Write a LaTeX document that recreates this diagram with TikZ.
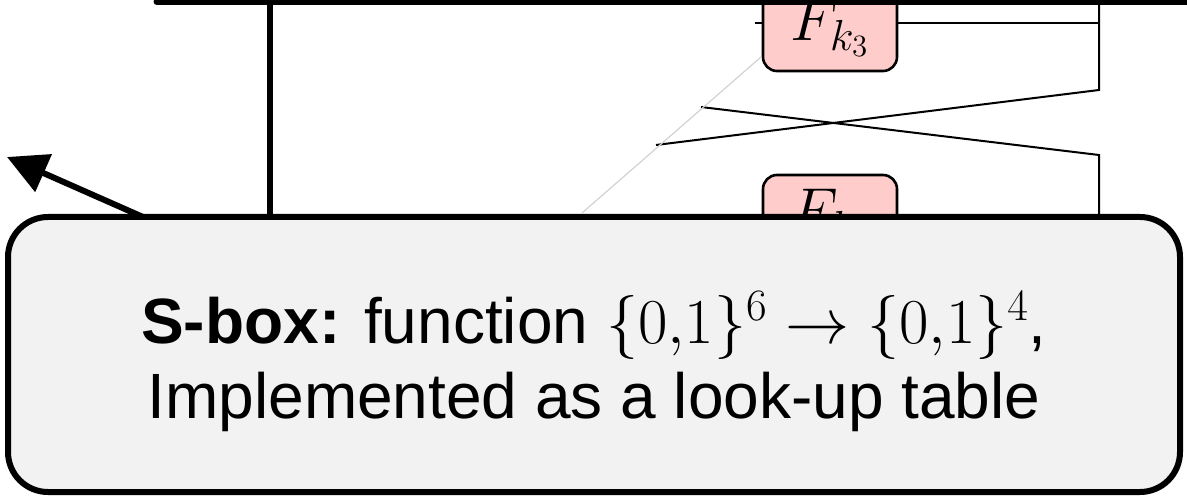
\RequirePackage{fix-cm}
\documentclass[tikz,border=0pt]{standalone}
\usepackage{fontspec}
\setmainfont{Liberation Sans}
\usetikzlibrary{arrows.meta,positioning}

\begin{document}
\begin{tikzpicture}[
        x=0.5pt,
        y=-0.5pt,
        >={Triangle[length=20pt,width=20pt]},
        % 轮函数方框
        fbox/.style={
            rectangle,
            draw,
            rounded corners=7pt,
            fill=red!20,
            line width=1.3pt,
            minimum width=67pt,
            minimum height=43.5pt,
            inner sep=0pt,
            font=\fontsize{31}{36}\selectfont
        },
        % 细连线
        wire/.style={
            line width=1pt
        },
        % 粗连线
        thick_wire/.style={
            line width=3pt
        },
        % 说明框
        callout/.style={
            rectangle,
            draw,
            rounded corners=20pt,
            fill=gray!10,
            line width=3pt,
            minimum width=586pt,
            minimum height=137.5pt
        },
        % 说明文字
        note_text/.style={
            align=center,
            inner sep=0pt,
            font=\fontsize{32}{37.5}\selectfont
        }
    ]
    \useasboundingbox (0,0) rectangle (1187,496);

    % --- 1. 轮函数 ---
    \node (fk3) [fbox] at (830,27.5) {$F_{k_3}$};
    \node (fk4) [fbox] at (830,218.5) {$F_{k_4}$};

    % --- 2. 交叉连线 ---
    \coordinate (calltop) at (0,217);
    \coordinate (rtop) at (1099,-10);
    \coordinate (fk3out) at (1099,23);
    \coordinate (rbend1) at (1099,90);
    \coordinate (rbend2) at (1099,155);
    \coordinate (cross_a) at (701,107);
    \coordinate (cross_b) at (656,145);
    \coordinate (stub) at (755,23);

    % F_k3 -> 右侧
    \draw[wire] (fk3.east |- fk3out) -- (fk3out);
    \draw[wire] (stub) -- (fk3.west |- fk3out);

    % 交换
    \draw[wire] (rtop) -- (rbend1) -- (cross_b);
    \draw[wire] (cross_a) -- (rbend2) -- (rbend2 |- calltop);

    % 遮挡边缘
    \coordinate (cut_top) at (761,57);
    \coordinate (cut_bot) at (582,213);
    \draw[gray!35, line width=0.6pt] (cut_top) -- (cut_bot);

    % --- 3. 外框 ---
    \coordinate (frame_left) at (157,2);
    \coordinate (frame_right) at (1200,2);
    \draw[line width=3.5pt, line cap=round] (frame_left) -- (frame_right);

    \coordinate (lefttop) at (270,2);
    \draw[thick_wire] (lefttop) -- (lefttop |- calltop);

    % --- 4. 指示箭头 ---
    \coordinate (ptr_tail) at (143,217);
    \coordinate (ptr_tip) at (7,157);
    \draw[thick_wire, ->] (ptr_tail) -- (ptr_tip);

    % --- 5. 说明框 ---
    \node (callout) [callout] at (594,354.5) {};
    \node (sbox_note) [note_text] at (594,361.5) {
        \textbf{S-box:} function $\{0{,}1\}^6 \rightarrow \{0{,}1\}^4$,\\
        Implemented as a look-up table
    };

\end{tikzpicture}
\end{document}
